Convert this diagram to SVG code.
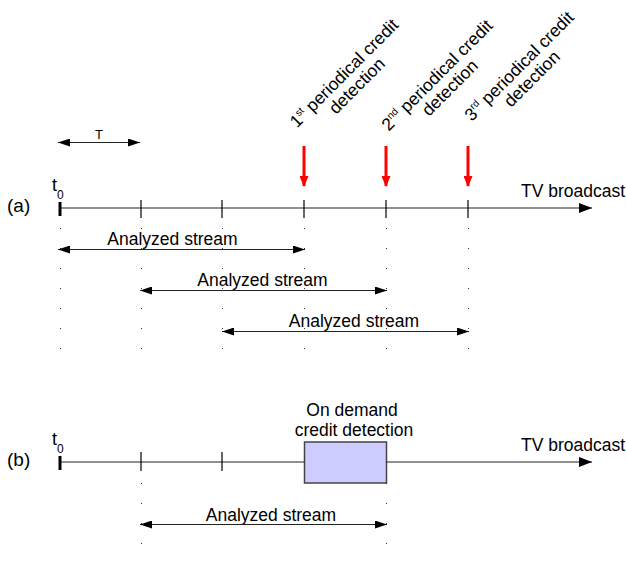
<svg xmlns="http://www.w3.org/2000/svg" width="626" height="565" viewBox="0 0 626 565">
<defs>
<style>
text{font-family:"Liberation Sans",Arial,sans-serif;fill:#000}
.lbl{font-size:17.5px}
.sm{font-size:12px}
.line{stroke:#222;stroke-width:1.2;fill:none}
.tick{stroke:#000;stroke-width:1.2}
.tick0{stroke:#000;stroke-width:3}
.dot{stroke:#333;stroke-width:1;stroke-dasharray:1 19}
.red{stroke:#f00;stroke-width:3;fill:none}
</style>
<marker id="ah" markerWidth="14" markerHeight="10" refX="13" refY="5" orient="auto" markerUnits="userSpaceOnUse"><path d="M0,0 L13,5 L0,10 Z" fill="#000"/></marker>
<marker id="as" markerWidth="13" markerHeight="8" refX="12" refY="4" orient="auto-start-reverse" markerUnits="userSpaceOnUse"><path d="M0,0 L12,4 L0,8 Z" fill="#000"/></marker>
<marker id="ar" markerWidth="9" markerHeight="11" refX="4.5" refY="10" orient="0" markerUnits="userSpaceOnUse"><path d="M0,0 L9,0 L4.5,11 Z" fill="#f00"/></marker>
</defs>

<g id="labels-a">
<text x="7" y="212" style="font-size:19px">(a)</text>
<text x="52" y="191" style="font-size:18px">t</text><text class="sm" x="57" y="199">0</text>
<text x="99" y="139" text-anchor="middle" style="font-size:13px">T</text>
<text class="lbl" x="521" y="197">TV broadcast</text>
</g>

<g id="det1" transform="translate(361,90) rotate(-45)">
<text class="lbl" x="0" y="-18" text-anchor="middle">1<tspan font-size="10" dy="-7">st</tspan><tspan dy="7"> periodical credit</tspan></text>
<text class="lbl" x="0" y="0" text-anchor="middle">detection</text>
</g>
<g id="det2" transform="translate(454,92) rotate(-45)">
<text class="lbl" x="0" y="-18" text-anchor="middle">2<tspan font-size="10" dy="-7">nd</tspan><tspan dy="7"> periodical credit</tspan></text>
<text class="lbl" x="0" y="0" text-anchor="middle">detection</text>
</g>
<g id="det3" transform="translate(536,83) rotate(-45)">
<text class="lbl" x="0" y="-18" text-anchor="middle">3<tspan font-size="10" dy="-7">rd</tspan><tspan dy="7"> periodical credit</tspan></text>
<text class="lbl" x="0" y="0" text-anchor="middle">detection</text>
</g>

<g id="stream-labels">
<text class="lbl" x="172.5" y="245" text-anchor="middle">Analyzed stream</text>
<text class="lbl" x="262.5" y="286" text-anchor="middle">Analyzed stream</text>
<text class="lbl" x="354" y="327" text-anchor="middle">Analyzed stream</text>
<text class="lbl" x="271" y="521" text-anchor="middle">Analyzed stream</text>
</g>

<g id="labels-b">
<text x="7" y="466" style="font-size:19px">(b)</text>
<text x="52" y="445" style="font-size:18px">t</text><text class="sm" x="57" y="453">0</text>
<text class="lbl" x="521" y="451">TV broadcast</text>
</g>

<g id="ondemand-box">
<rect x="304.5" y="442" width="82" height="41" fill="#ccccff" stroke="#444" stroke-width="1.5"/>
<text class="lbl" x="352" y="416" text-anchor="middle">On demand</text>
<text class="lbl" x="354" y="436" text-anchor="middle">credit detection</text>
</g>

<g id="connectors">
<line class="line" x1="60" y1="208" x2="592" y2="208" marker-end="url(#ah)"/>
<line class="tick0" x1="60" y1="202" x2="60" y2="216"/>
<line class="tick" x1="141" y1="200" x2="141" y2="218"/>
<line class="tick" x1="222" y1="200" x2="222" y2="218"/>
<line class="tick" x1="304" y1="200" x2="304" y2="218"/>
<line class="tick" x1="386" y1="200" x2="386" y2="218"/>
<line class="tick" x1="468" y1="200" x2="468" y2="218"/>
<line class="line" x1="58" y1="142.5" x2="140" y2="142.5" marker-start="url(#as)" marker-end="url(#as)"/>
<line class="red" x1="304" y1="146" x2="304" y2="186" marker-end="url(#ar)"/>
<line class="red" x1="386" y1="146" x2="386" y2="186" marker-end="url(#ar)"/>
<line class="red" x1="468" y1="146" x2="468" y2="186" marker-end="url(#ar)"/>
<line class="dot" x1="60.5" y1="228" x2="60.5" y2="350"/>
<line class="dot" x1="141.5" y1="228" x2="141.5" y2="350"/>
<line class="dot" x1="222.5" y1="228" x2="222.5" y2="350"/>
<line class="dot" x1="304.5" y1="228" x2="304.5" y2="350"/>
<line class="dot" x1="386.5" y1="228" x2="386.5" y2="350"/>
<line class="dot" x1="468.5" y1="228" x2="468.5" y2="350"/>
<line class="line" x1="58" y1="249.5" x2="305" y2="249.5" marker-start="url(#as)" marker-end="url(#as)"/>
<line class="line" x1="140" y1="290.5" x2="387" y2="290.5" marker-start="url(#as)" marker-end="url(#as)"/>
<line class="line" x1="222" y1="331.5" x2="469" y2="331.5" marker-start="url(#as)" marker-end="url(#as)"/>
<line class="line" x1="60" y1="462" x2="304.5" y2="462"/>
<line class="line" x1="386.5" y1="462" x2="592" y2="462" marker-end="url(#ah)"/>
<line class="tick0" x1="60" y1="456" x2="60" y2="470"/>
<line class="tick" x1="141" y1="452" x2="141" y2="471"/>
<line class="tick" x1="222" y1="452" x2="222" y2="471"/>
<line class="dot" x1="141.5" y1="483" x2="141.5" y2="546"/>
<line class="dot" x1="386.5" y1="483" x2="386.5" y2="546"/>
<line class="line" x1="140" y1="524.5" x2="387" y2="524.5" marker-start="url(#as)" marker-end="url(#as)"/>
</g>
</svg>
